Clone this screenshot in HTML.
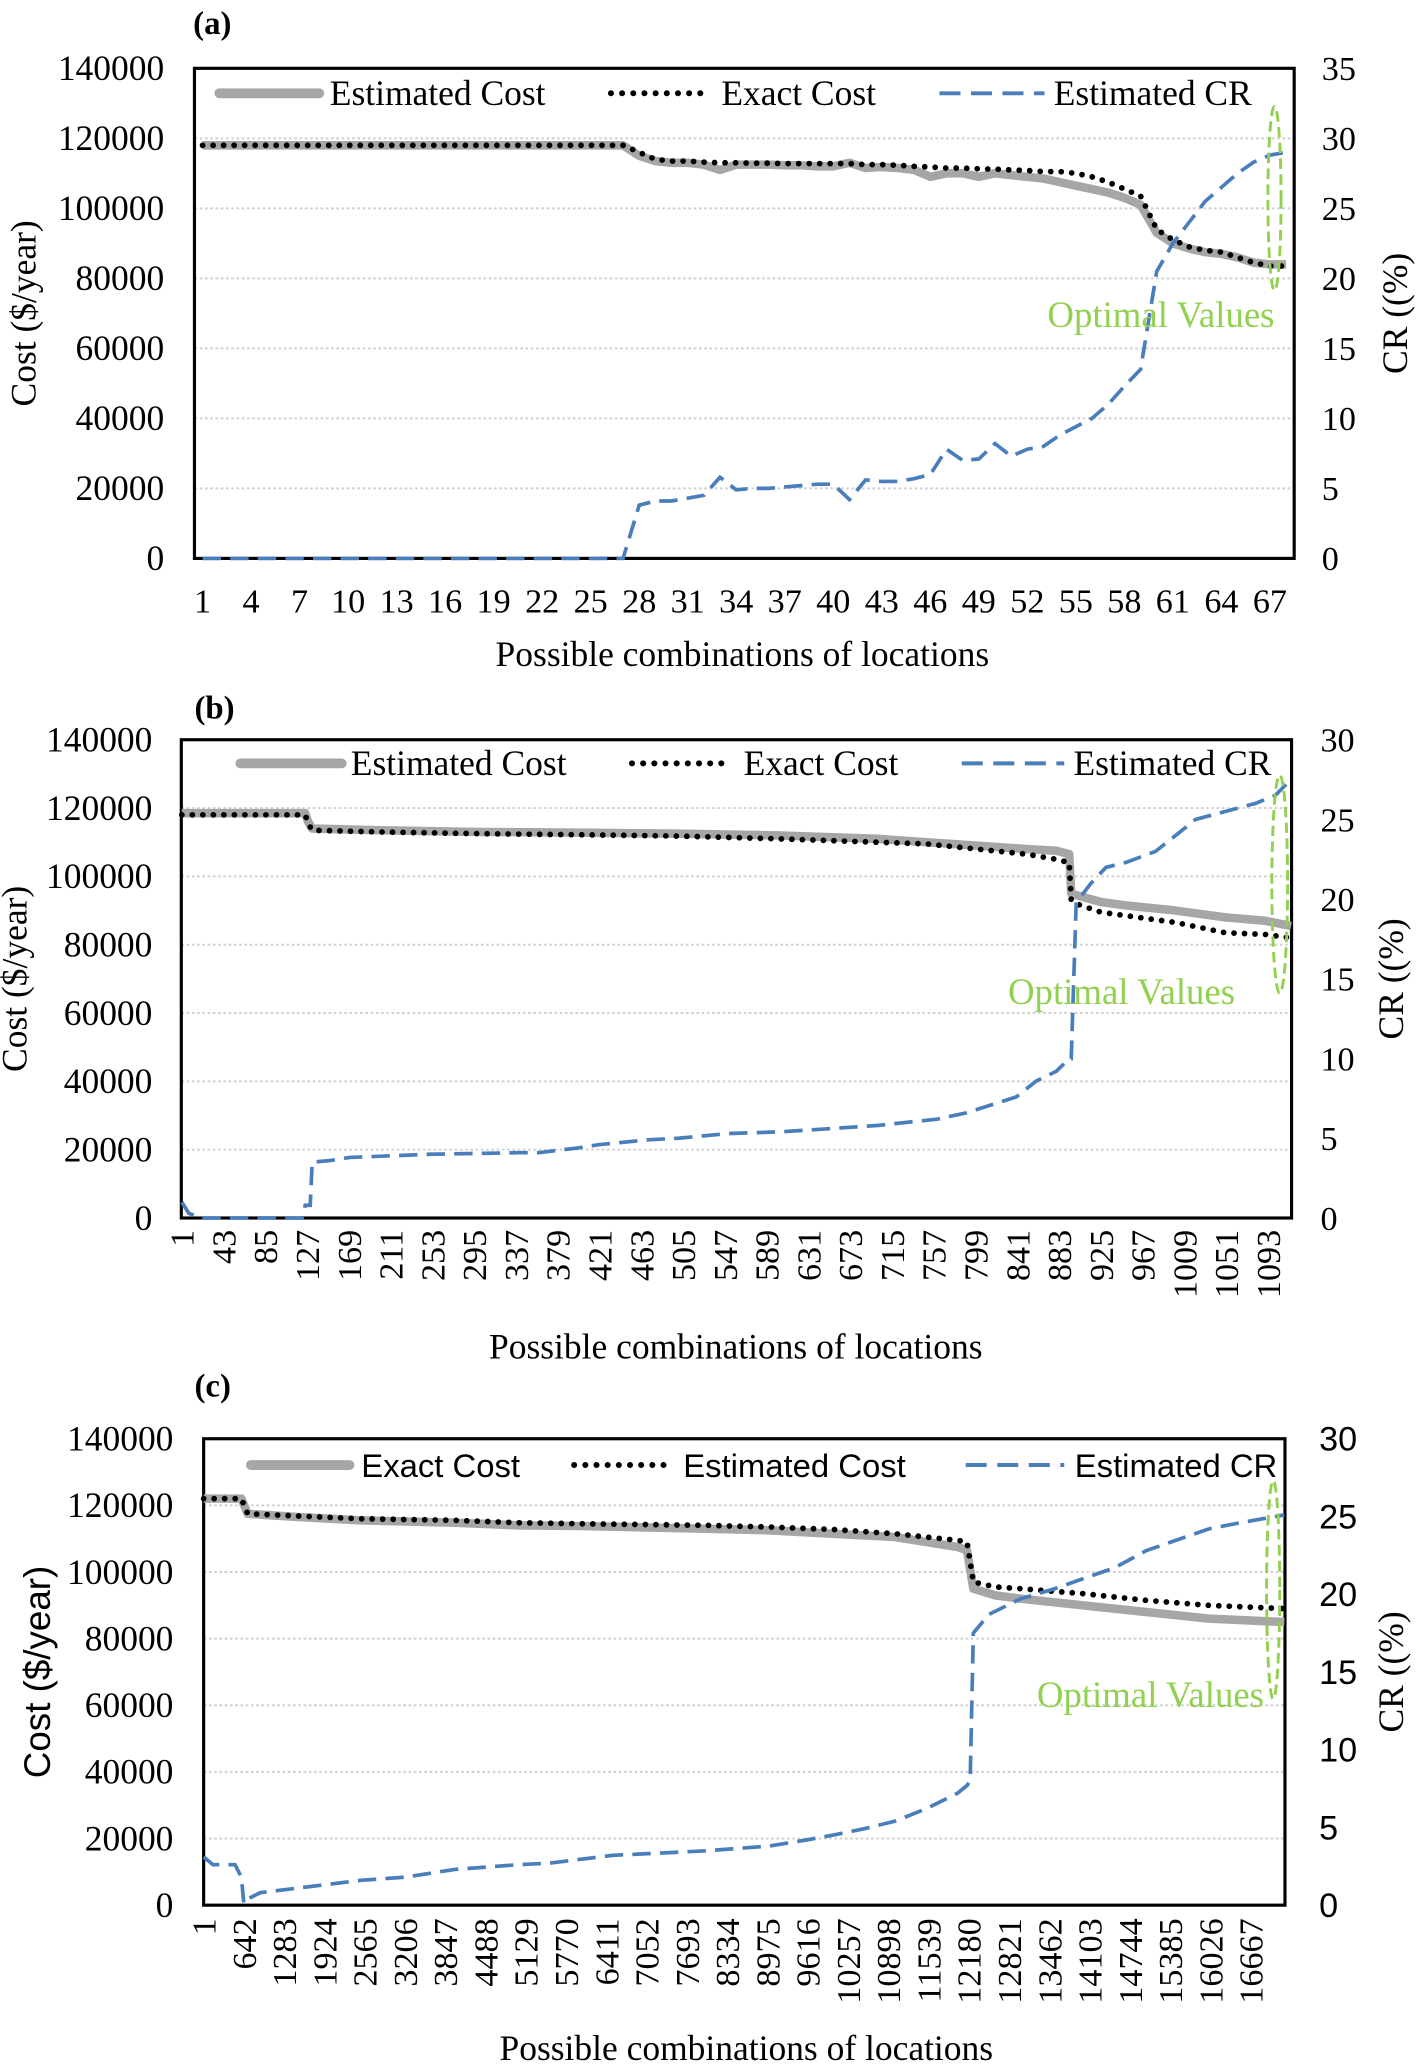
<!DOCTYPE html>
<html><head><meta charset="utf-8"><style>
html,body{margin:0;padding:0;background:#fff}
svg{display:block}
</style></head><body>
<svg id="fig" width="1419" height="2066" viewBox="0 0 1080 1572.4" preserveAspectRatio="none" xmlns="http://www.w3.org/2000/svg"></svg>
<script>
// ---------- Chart (a) data ----------
const aCategories = Array.from({length:68},(_, i)=>i+1);
const aTickLabels = ["1","4","7","10","13","16","19","22","25","28","31","34","37","40","43","46","49","52","55","58","61","64","67"];
const aEstCost = [118000,118000,118000,118000,118000,118000,118000,118000,118000,118000,118000,118000,118000,118000,118000,118000,118000,118000,118000,118000,118000,118000,118000,118000,118000,118000,118000,
115000,113500,113000,113000,112500,111000,112500,112500,112500,112300,112300,112000,112000,113000,111500,111800,111500,111000,109000,110000,110000,109000,110000,109500,109000,108500,107500,106500,105500,104500,103000,101000,93000,90000,88500,87500,87000,86000,84500,84000,84000];
const aExactCost = [118000,118000,118000,118000,118000,118000,118000,118000,118000,118000,118000,118000,118000,118000,118000,118000,118000,118000,118000,118000,118000,118000,118000,118000,118000,118000,118000,
116000,114000,113500,113500,113200,113000,113000,112900,112900,112800,112800,112800,112800,112800,112500,112500,112300,112000,111800,111500,111500,111300,111200,111000,110800,110500,110500,110000,109000,107500,105500,103500,94000,91000,89000,88000,87500,86000,84500,83500,83500];
const aCR = [0,0,0,0,0,0,0,0,0,0,0,0,0,0,0,0,0,0,0,0,0,0,0,0,0,0,0,
3.8,4.1,4.1,4.3,4.5,5.8,4.9,5,5,5.1,5.2,5.3,5.3,4.2,5.6,5.5,5.5,5.7,6,7.8,7,7.1,8.2,7.3,7.8,8,8.8,9.4,10,11,12.3,13.5,20.5,22.5,24,25.5,26.5,27.5,28.3,28.8,29];

// ---------- Chart (b) data ----------
const bTickLabels = ["1","43","85","127","169","211","253","295","337","379","421","463","505","547","589","631","673","715","757","799","841","883","925","967","1009","1051","1093"];
const bCostIdx = [1,125,128,132,200,300,400,500,600,700,750,800,850,880,893,895,900,925,950,1000,1050,1090,1116];
const bEstCost = [118500,118500,116000,114000,113500,113000,112800,112500,112000,111000,110000,109000,108000,107500,106500,95000,94500,92500,91500,90000,88000,87000,85500];
const bExactCost = [118000,118000,115500,113500,113000,112500,112200,111800,111000,110000,109500,108000,106500,105000,104000,93000,92000,89500,88500,86500,83500,83000,82000];
const bCRIdx = [1,8,20,60,122,125,130,132,150,170,250,340,360,400,420,470,500,550,600,650,700,760,790,820,840,860,880,893,895,900,915,930,950,980,1000,1020,1050,1080,1100,1116];
const bCR = [1,0.3,0,0,0,0.8,0.8,3.5,3.6,3.8,4,4.1,4.1,4.4,4.6,4.9,5,5.3,5.4,5.6,5.8,6.2,6.6,7.2,7.6,8.6,9.2,10,10,19.8,21,22,22.3,23,24,25,25.5,26,26.5,27.5];

// ---------- Chart (c) data ----------
const cTickLabels = ["1","642","1283","1924","2565","3206","3847","4488","5129","5770","6411","7052","7693","8334","8975","9616","10257","10898","11539","12180","12821","13462","14103","14744","15385","16026","16667"];
const cCostIdx = [1,600,700,1500,2500,4000,5000,6000,8000,9000,10000,11000,11500,12000,12150,12250,12600,13000,14000,15000,16000,17200];
const cExactCost = [122000,122000,117500,116500,115500,114800,114000,113800,113000,112500,111500,110500,109000,107500,106500,95000,93000,92000,90000,88000,86000,85000];
const cEstCost = [122000,122000,117500,116800,116000,115500,114800,114500,114000,113500,112800,111500,110500,109500,109000,97000,95500,95000,93500,91500,90000,89000];
const cCRIdx = [1,150,500,600,640,700,900,1500,2500,3200,4000,5000,5500,6500,7500,8000,9000,9600,10000,10500,11000,11500,12000,12150,12200,12250,12500,13000,13500,14000,14500,15000,15500,16000,16500,17200];
const cCR = [3.1,2.6,2.6,1.8,0.1,0.4,0.8,1.1,1.6,1.8,2.3,2.6,2.7,3.2,3.4,3.5,3.8,4.2,4.5,4.9,5.4,6.2,7.2,7.7,8,17.5,18.7,19.7,20.3,21,21.7,22.8,23.5,24.2,24.6,25.1];

const NS="http://www.w3.org/2000/svg";
const svg=document.getElementById('fig');
function mk(tag,attrs,parent){const e=document.createElementNS(NS,tag);for(const k in attrs)e.setAttribute(k,attrs[k]);(parent||svg).appendChild(e);return e;}
function txt(s,attrs,parent){const e=mk('text',attrs,parent);e.textContent=s;return e;}

function chart(cfg){
  const g=mk('g',{});
  
  
  const L=cfg.box[0],T=cfg.box[1],R=cfg.box[2],B=cfg.box[3];
  const yL=v=>B-(v/140000)*(B-T);
  const yR=v=>B-(v/cfg.rMax)*(B-T);
  const xS=i=>L+(i-0.5)/cfg.N*(R-L);
  const pl=txt(cfg.label,{x:cfg.labelX,y:cfg.labelY,'font-family':'Liberation Serif, serif','font-size':25,'font-weight':'bold'},g);
  
  
  for(let v=0;v<=140000;v+=20000){
    if(v>0&&v<140000){const gl=mk('line',{x1:L,x2:R,y1:yL(v),y2:yL(v),stroke:'#d0d0d0','stroke-width':1.5,'stroke-dasharray':'2 2'},g);
      }
    const t=txt(String(v),{x:cfg.leftTickX,y:yL(v)+9,'text-anchor':'end','font-family':'Liberation Serif, serif','font-size':27},g);
    
  }
  for(let v=0;v<=cfg.rMax;v+=5){
    const t=txt(String(v),{x:cfg.rightTickX,y:yR(v)+9,'font-family':cfg.rightFont,'font-size':26},g);
    
  }
  const fr=mk('rect',{x:L,y:T,width:R-L,height:B-T,fill:'none',stroke:'#000','stroke-width':2.4},g);
  
  cfg.xLabels.forEach((s,k)=>{
    const idx=cfg.labelStart+k*cfg.labelStep;const x=xS(idx);
    let t;
    if(cfg.rotate){t=txt(s,{x:0,y:0,'text-anchor':'end','font-family':'Liberation Serif, serif','font-size':26,transform:`translate(${x+9},${cfg.xLabelY}) rotate(-90)`},g);}
    else{t=txt(s,{x:x,y:cfg.xLabelY,'text-anchor':'middle','font-family':'Liberation Serif, serif','font-size':26},g);}
    
  });
  const xt=txt('Possible combinations of locations',{x:cfg.xTitleX,y:cfg.xTitleY,'text-anchor':'middle','font-family':'Liberation Serif, serif','font-size':27},g);
  
  const yt=txt('Cost ($/year)',{x:0,y:0,'text-anchor':'middle','font-family':cfg.yTitleFont,'font-size':cfg.yTitleSize,transform:`translate(${cfg.yTitleX},${(T+B)/2}) rotate(-90)`},g);
  
  const rt=txt('CR ((%)',{x:0,y:0,'text-anchor':'middle','font-family':'Liberation Serif, serif','font-size':27,transform:`translate(${cfg.rTitleX},${(T+B)/2}) rotate(-90)`},g);
  
  cfg.series.forEach(s=>{
    const pts=s.idx.map((i,k)=>xS(i).toFixed(1)+','+(s.axis==='L'?yL(s.vals[k]):yR(s.vals[k])).toFixed(1)).join(' ');
    const p=mk('polyline',Object.assign({points:pts,fill:'none'},s.style),g);
    
    
  });
  cfg.legend.forEach(l=>{
    const ln=mk('line',Object.assign({x1:l.x1,x2:l.x2,y1:cfg.legY,y2:cfg.legY},l.style),g);
    
    const t=txt(l.text,{x:l.tx,y:cfg.legY+9,'font-family':cfg.legFont,'font-size':cfg.legSize},g);
    
  });
  const el=mk('ellipse',{cx:cfg.ell[0],cy:cfg.ell[1],rx:cfg.ell[2],ry:cfg.ell[3],fill:'none',stroke:'#92d050','stroke-width':2.2,'stroke-dasharray':'8 4'},g);
  
  const ot=txt('Optimal Values',{x:cfg.optX,y:cfg.optY,'text-anchor':'end','font-family':'Liberation Serif, serif','font-size':28,fill:'#92d050'},g);
  
}
const grayStyle={stroke:'#a6a6a6','stroke-width':6.5,'stroke-linejoin':'round'};
const dotStyle={stroke:'#000','stroke-width':4.4,'stroke-dasharray':'0 8','stroke-linecap':'round'};
const blueStyle={stroke:'#4a7ebb','stroke-width':2.8,'stroke-dasharray':'14 7'};
const blueLeg={stroke:'#4a7ebb','stroke-width':3,'stroke-dasharray':'16 8'};
const grayLeg={stroke:'#a6a6a6','stroke-width':7.5,'stroke-linecap':'round'};
const dotLeg={stroke:'#000','stroke-width':4.6,'stroke-dasharray':'0 8.5','stroke-linecap':'round'};

chart({name:'chart-a',label:'(a)',labelX:147,labelY:26,box:[148,52,985,425],N:68,rMax:35,
  leftTickX:125,rightTickX:1006,rightFont:'Liberation Serif, serif',
  xLabels:aTickLabels,labelStart:1,labelStep:3,rotate:false,xLabelY:466,xTitleX:565,xTitleY:507,
  yTitleX:27,yTitleFont:'Liberation Serif, serif',yTitleSize:27,rTitleX:1071,
  series:[{idx:aCategories,vals:aEstCost,axis:'L',style:grayStyle,dname:'estimated-cost-line'},
          {idx:aCategories,vals:aExactCost,axis:'L',style:dotStyle,dname:'exact-cost-line'},
          {idx:aCategories,vals:aCR,axis:'R',style:blueStyle,dname:'estimated-cr-line'}],
  legY:71,legFont:'Liberation Serif, serif',legSize:27,
  legend:[{x1:167,x2:243,tx:251,text:'Estimated Cost',style:grayLeg},{x1:465,x2:540,tx:549,text:'Exact Cost',style:dotLeg},{x1:715,x2:795,tx:802,text:'Estimated CR',style:blueLeg}],
  ell:[970,151,5,70],optX:970,optY:249});

chart({name:'chart-b',label:'(b)',labelX:148,labelY:547,box:[138,563,983,927],N:1116,rMax:30,
  leftTickX:116,rightTickX:1005,rightFont:'Liberation Serif, serif',
  xLabels:bTickLabels,labelStart:1,labelStep:42,rotate:true,xLabelY:936,xTitleX:560,xTitleY:1034,
  yTitleX:20,yTitleFont:'Liberation Serif, serif',yTitleSize:27,rTitleX:1068,
  series:[{idx:bCostIdx,vals:bEstCost,axis:'L',style:grayStyle,dname:'estimated-cost-line'},
          {idx:bCostIdx,vals:bExactCost,axis:'L',style:dotStyle,dname:'exact-cost-line'},
          {idx:bCRIdx,vals:bCR,axis:'R',style:blueStyle,dname:'estimated-cr-line'}],
  legY:581,legFont:'Liberation Serif, serif',legSize:27,
  legend:[{x1:183,x2:260,tx:267,text:'Estimated Cost',style:grayLeg},{x1:481,x2:556,tx:566,text:'Exact Cost',style:dotLeg},{x1:732,x2:810,tx:817,text:'Estimated CR',style:blueLeg}],
  ell:[974,673,6,83],optX:940,optY:764});

chart({name:'chart-c',label:'(c)',labelX:148,labelY:1063,box:[155,1095,978,1450],N:17210,rMax:30,
  leftTickX:132,rightTickX:1004,rightFont:'Liberation Sans, sans-serif',
  xLabels:cTickLabels,labelStart:1,labelStep:641,rotate:true,xLabelY:1460,xTitleX:568,xTitleY:1568,
  yTitleX:38,yTitleFont:'Liberation Sans, sans-serif',yTitleSize:28,rTitleX:1068,
  series:[{idx:cCostIdx,vals:cExactCost,axis:'L',style:grayStyle,dname:'exact-cost-line'},
          {idx:cCostIdx,vals:cEstCost,axis:'L',style:dotStyle,dname:'estimated-cost-line'},
          {idx:cCRIdx,vals:cCR,axis:'R',style:blueStyle,dname:'estimated-cr-line'}],
  legY:1115,legFont:'Liberation Sans, sans-serif',legSize:25,
  legend:[{x1:191,x2:266,tx:275,text:'Exact Cost',style:grayLeg},{x1:437,x2:512,tx:520,text:'Estimated Cost',style:dotLeg},{x1:735,x2:810,tx:818,text:'Estimated CR',style:blueLeg}],
  ell:[969,1210,5,83],optX:962,optY:1299});
</script>
</body></html>
